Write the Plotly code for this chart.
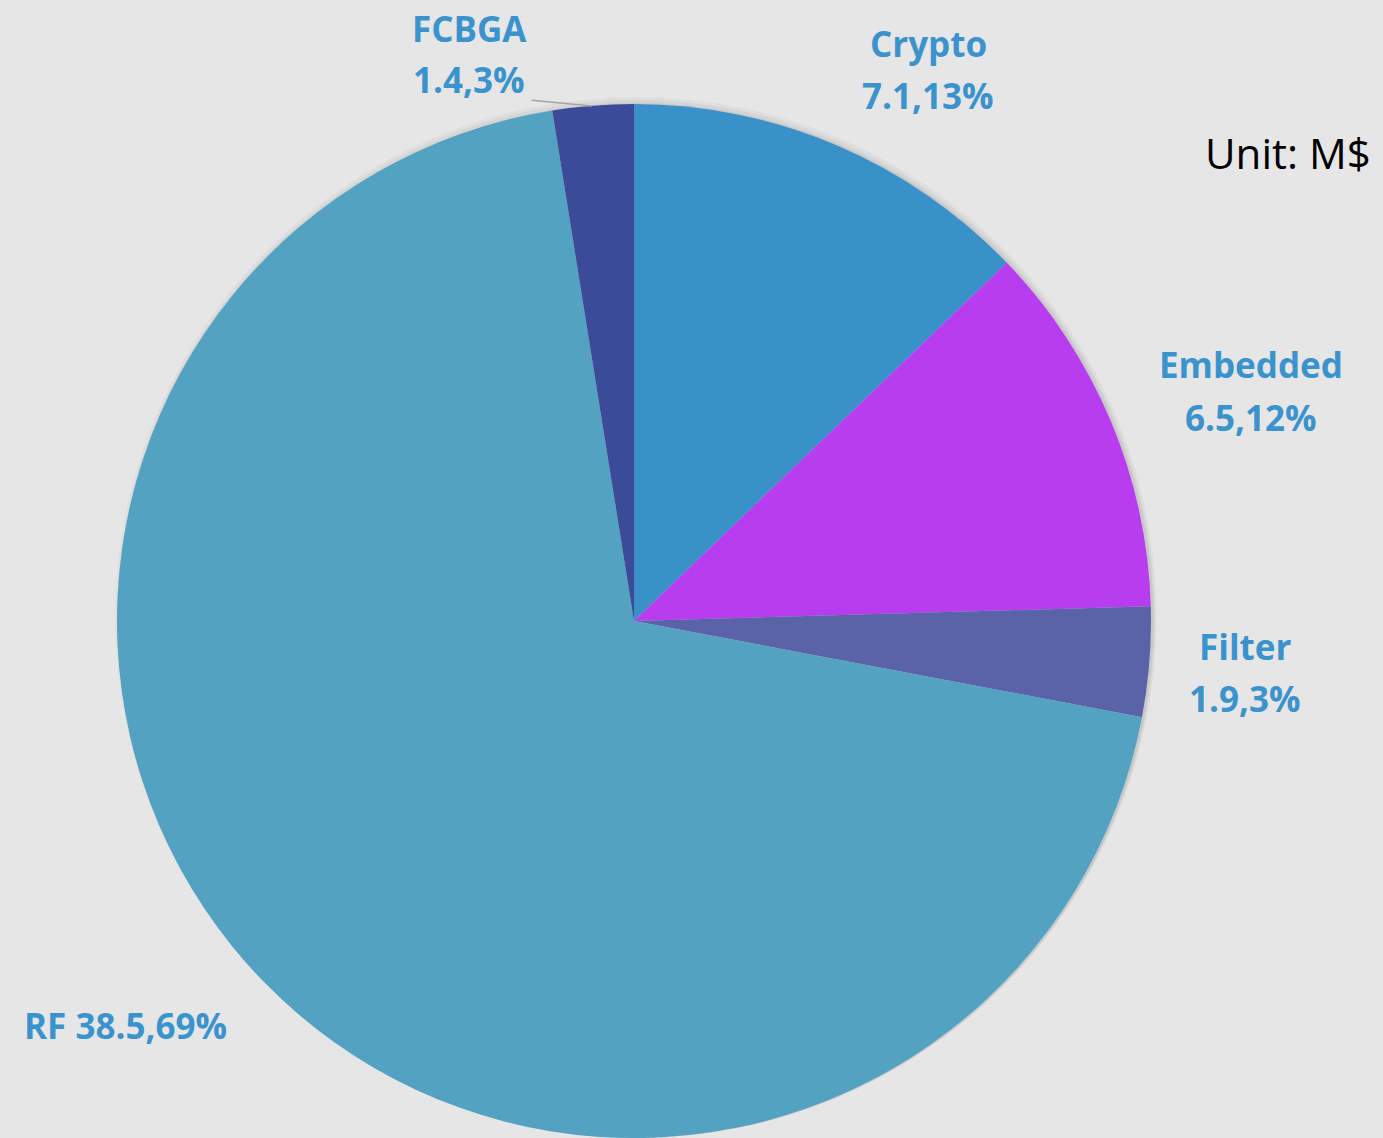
import plotly.graph_objects as go

categories = ["Crypto", "Embedded", "Filter", "RF", "FCBGA"]
values = [7.1, 6.5, 1.9, 38.5, 1.4]
colors = ["#3a91c9", "#b83cf0", "#5a62a8", "#53a2c2", "#3b4a99"]

W, H = 1383, 1138
BG = "#e6e6e6"
LABEL_COLOR = "#3a93cc"
FONT = "Open Sans"
FS = 35

total = sum(values)
pcts = [round(v / total * 100) for v in values]

# pie geometry (pixels)
cx, cy, r = 634, 622, 518

fig = go.Figure()

# soft shadow layers
for dr, a in [(9, 0.03), (6, 0.04), (3, 0.06)]:
    fig.add_trace(go.Pie(
        values=[1], marker=dict(colors=[f"rgba(0,0,0,{a})"]),
        textinfo="none", hoverinfo="skip", showlegend=False, sort=False,
        domain=dict(x=[(cx - r - dr + 2) / W, (cx + r + dr + 2) / W],
                    y=[0, (H - cy + r + dr - 2) / H]),
    ))

dom = dict(x=[(cx - r) / W, (cx + r) / W], y=[0, (H - cy + r) / H])
fig.add_trace(go.Pie(
    labels=categories, values=values,
    marker=dict(colors=colors, line=dict(width=0)),
    sort=False, direction="clockwise", rotation=0,
    textinfo="none", hoverinfo="label+value+percent",
    showlegend=False, domain=dom,
))

# label positions (pixel centres of each text line)
label_pos = {
    "FCBGA": (469, [31, 81]),
    "Crypto": (928, [46, 97]),
    "Embedded": (1251, [367, 419]),
    "Filter": (1245, [648, 700]),
    "RF": (125, [1027]),
}

annotations = []
for name, v, p in zip(categories, values, pcts):
    x, ys = label_pos[name]
    lines = [name, f"{v},{p}%"] if len(ys) == 2 else [f"{name} {v},{p}%"]
    for txt, y in zip(lines, ys):
        annotations.append(dict(
            x=x / W, y=1 - (y - 2) / H, xref="paper", yref="paper",
            text=txt, showarrow=False,
            xanchor="center", yanchor="middle", align="center",
            font=dict(family=FONT, size=FS, color=LABEL_COLOR, weight=700),
        ))

# leader line for FCBGA
annotations.append(dict(
    x=592 / W, y=1 - 106 / H, xref="paper", yref="paper",
    ax=-62, ay=-6, text="", showarrow=True, arrowhead=0,
    arrowwidth=1.5, arrowcolor="#a6a6a6",
))

annotations.append(dict(
    x=1373 / W, y=1 - 153 / H, xref="paper", yref="paper",
    text="Unit: M$", showarrow=False, xanchor="right", yanchor="middle",
    font=dict(family="Open Sans", size=42, color="#000000"),
))

fig.update_layout(
    width=W, height=H,
    margin=dict(l=0, r=0, t=0, b=0),
    paper_bgcolor=BG, plot_bgcolor=BG,
    annotations=annotations,
    showlegend=False,
)

fig.write_html(
    "out.html",
    config={"displayModeBar": False},
    post_script="document.body.style.margin='0';document.body.style.background='#e6e6e6';",
)
